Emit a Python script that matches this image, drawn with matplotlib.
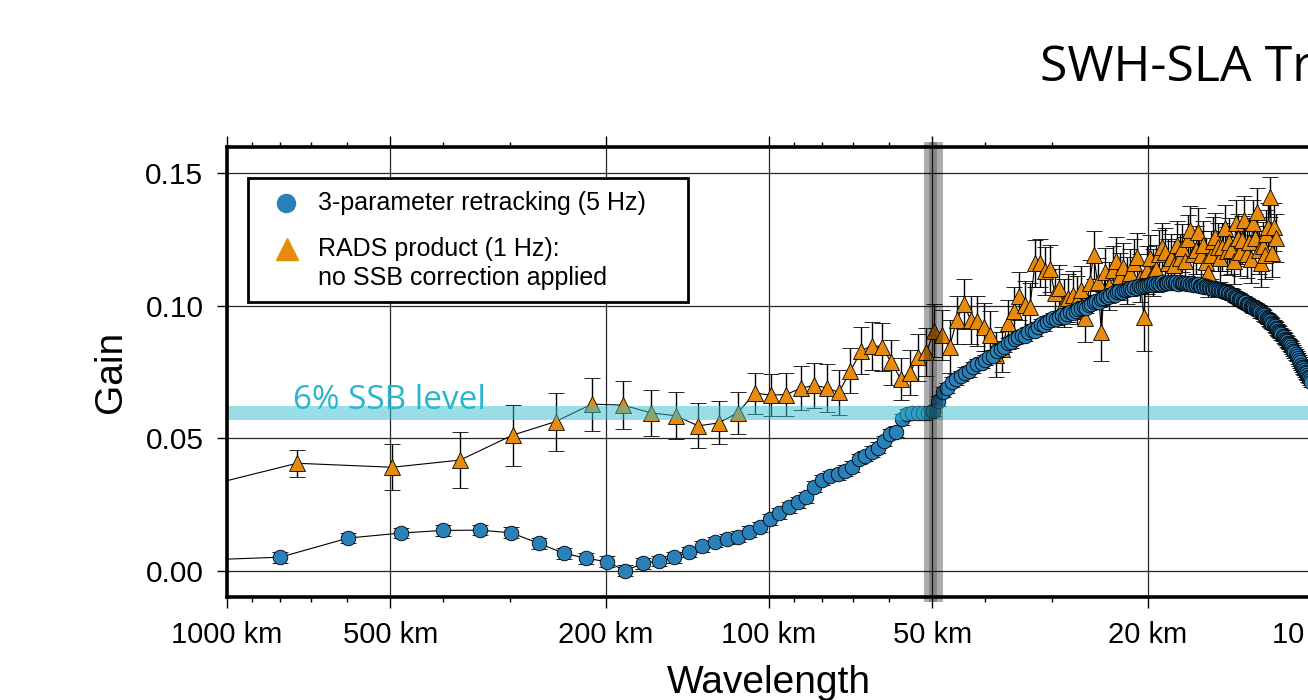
import numpy as np
import matplotlib.pyplot as plt
import matplotlib.transforms as mtransforms
from matplotlib.patches import Rectangle
from matplotlib.ticker import FixedLocator, NullFormatter

plt.rcParams['font.family'] = ['Liberation Sans', 'DejaVu Sans']

# record lengths (km): bin k sits at wavelength = length / k
retrack_len_km = 2392.0
rads_len_km = 1486.0

# 3-parameter retracking, 5 Hz (bins k = 2 ... 239)
retrack_gain = [
    0.0039, 0.0052, 0.0124, 0.0143, 0.0153, 0.0154, 0.0144, 0.0104, 0.0067, 0.0048,
    0.0035, 0.0001, 0.0029, 0.0038, 0.0051, 0.0072, 0.0093, 0.0109, 0.0121, 0.0129,
    0.0148, 0.0166, 0.0195, 0.0217, 0.0240, 0.0259, 0.0278, 0.0318, 0.0343, 0.0358,
    0.0364, 0.0378, 0.0393, 0.0422, 0.0434, 0.0450, 0.0465, 0.0490, 0.0516, 0.0525,
    0.0572, 0.0592, 0.0594, 0.0594, 0.0595, 0.0596, 0.0603, 0.0640,
    0.0675, 0.0690, 0.0712, 0.0722, 0.0735, 0.0747, 0.0752, 0.0768, 0.0779, 0.0785,
    0.0795, 0.0808, 0.0812, 0.0828, 0.0836, 0.0845, 0.0858, 0.0862, 0.0874, 0.0881,
    0.0888, 0.0886, 0.0899, 0.0910, 0.0905, 0.0920, 0.0931, 0.0926, 0.0940, 0.0946,
    0.0952, 0.0948, 0.0957, 0.0964, 0.0958, 0.0968, 0.0975, 0.0972, 0.0981, 0.0986,
    0.0990, 0.0996, 0.0993, 0.1003, 0.1008, 0.1012, 0.1018, 0.1015, 0.1024, 0.1030,
    0.1035, 0.1031, 0.1040, 0.1046, 0.1042, 0.1050, 0.1054, 0.1051, 0.1058, 0.1060,
    0.1063, 0.1066, 0.1061, 0.1070, 0.1068, 0.1073, 0.1071, 0.1076, 0.1074, 0.1077,
    0.1078, 0.1082, 0.1077, 0.1084, 0.1080, 0.1086, 0.1083, 0.1088, 0.1082, 0.1087,
    0.1085, 0.1090, 0.1084, 0.1089, 0.1086, 0.1091, 0.1083, 0.1088, 0.1085, 0.1087,
    0.1085, 0.1082, 0.1087, 0.1080, 0.1084, 0.1079, 0.1081, 0.1077, 0.1080, 0.1076,
    0.1075, 0.1078, 0.1072, 0.1074, 0.1069, 0.1072, 0.1066, 0.1068, 0.1064, 0.1066,
    0.1062, 0.1064, 0.1058, 0.1060, 0.1055, 0.1057, 0.1051, 0.1053, 0.1048, 0.1047,
    0.1045, 0.1040, 0.1042, 0.1035, 0.1033, 0.1030, 0.1026, 0.1024, 0.1020, 0.1018,
    0.1015, 0.1013, 0.1008, 0.1006, 0.1003, 0.1000, 0.0998, 0.0994, 0.0992, 0.0990,
    0.0988, 0.0983, 0.0981, 0.0975, 0.0972, 0.0968, 0.0963, 0.0958, 0.0953, 0.0950,
    0.0945, 0.0941, 0.0936, 0.0932, 0.0927, 0.0922, 0.0917, 0.0911, 0.0906, 0.0902,
    0.0897, 0.0892, 0.0887, 0.0881, 0.0876, 0.0871, 0.0866, 0.0860, 0.0855, 0.0850,
    0.0845, 0.0838, 0.0831, 0.0824, 0.0817, 0.0810, 0.0802, 0.0794, 0.0786, 0.0778,
    0.0770, 0.0764, 0.0758, 0.0751, 0.0745, 0.0739, 0.0733, 0.0727, 0.0720, 0.0714,
]
retrack_err = 0.002

# RADS product, 1 Hz, no SSB correction (bins k = 1 ... 128)
rads_gain = [
    0.0253, 0.0406, 0.0391, 0.0418, 0.0512, 0.0563, 0.0629, 0.0625, 0.0596, 0.0585,
    0.0547, 0.0558, 0.0596, 0.0670, 0.0663, 0.0665, 0.0689, 0.0700, 0.0690, 0.0673,
    0.0754, 0.0830, 0.0849, 0.0845, 0.0786, 0.0723, 0.0747, 0.0805, 0.0826, 0.0905,
    0.0889, 0.0845, 0.0945, 0.1006, 0.0946, 0.0943, 0.0919, 0.0891, 0.0815, 0.0835,
    0.0933, 0.0980, 0.1037, 0.1002, 0.0994, 0.1159, 0.1160, 0.1132, 0.1140, 0.1049,
    0.1065, 0.1010, 0.1028, 0.1040, 0.1021, 0.1060, 0.0952, 0.1084, 0.1190, 0.1090,
    0.0902, 0.1128, 0.1075, 0.1134, 0.1170, 0.1110, 0.1145, 0.1095, 0.1125, 0.1160,
    0.1185, 0.1105, 0.0958, 0.1134, 0.1178, 0.1125, 0.1140, 0.1195, 0.1220, 0.1203,
    0.1160, 0.1180, 0.1153, 0.1230, 0.1180, 0.1216, 0.1170, 0.1253, 0.1285, 0.1195,
    0.1210, 0.1278, 0.1190, 0.1228, 0.1165, 0.1122, 0.1190, 0.1245, 0.1260, 0.1222,
    0.1180, 0.1222, 0.1291, 0.1205, 0.1240, 0.1210, 0.1170, 0.1310, 0.1255, 0.1203,
    0.1247, 0.1323, 0.1195, 0.1240, 0.1175, 0.1310, 0.1255, 0.1354, 0.1210, 0.1159,
    0.1225, 0.1190, 0.1270, 0.1297, 0.1410, 0.1197, 0.1297, 0.1255,
]
rads_err = [
    0.0060, 0.0050, 0.0086, 0.0105, 0.0115, 0.0109, 0.0100, 0.0091, 0.0087, 0.0088,
    0.0085, 0.0081, 0.0079, 0.0077, 0.0078, 0.0080, 0.0082, 0.0085, 0.0090, 0.0085,
    0.0085, 0.0088, 0.0090, 0.0090, 0.0085, 0.0080, 0.0085, 0.0090, 0.0090, 0.0100,
    0.0095, 0.0100, 0.0090, 0.0095, 0.0090, 0.0095, 0.0090, 0.0090, 0.0085, 0.0085,
    0.0090, 0.0090, 0.0090, 0.0090, 0.0090, 0.0090, 0.0090, 0.0090, 0.0090, 0.0090,
    0.0090, 0.0090, 0.0090, 0.0090, 0.0090, 0.0090, 0.0090, 0.0090, 0.0090, 0.0090,
    0.0110, 0.0090, 0.0090, 0.0090, 0.0090, 0.0090, 0.0090, 0.0090, 0.0090, 0.0090,
    0.0090, 0.0090, 0.0130, 0.0090, 0.0090, 0.0090, 0.0090, 0.0090, 0.0090, 0.0090,
    0.0090, 0.0090, 0.0090, 0.0090, 0.0090, 0.0090, 0.0090, 0.0090, 0.0090, 0.0090,
    0.0090, 0.0090, 0.0090, 0.0090, 0.0090, 0.0090, 0.0090, 0.0090, 0.0090, 0.0090,
    0.0090, 0.0090, 0.0090, 0.0090, 0.0090, 0.0090, 0.0090, 0.0090, 0.0090, 0.0090,
    0.0090, 0.0090, 0.0090, 0.0090, 0.0090, 0.0090, 0.0090, 0.0090, 0.0090, 0.0090,
    0.0090, 0.0090, 0.0090, 0.0090, 0.0075, 0.0090, 0.0090, 0.0090,
]

ssb_band = (0.057, 0.062)
cutoff_wide = (47.7, 51.7)
cutoff_core = (48.9, 50.6)

xticks_km = [1000, 500, 200, 100, 50, 20, 10]
xtick_labels = ["1000 km", "500 km", "200 km", "100 km", "50 km", "20 km", "10 km"]
yticks = [0.00, 0.05, 0.10, 0.15]

blue = "#2a80b9"
orange = "#e88a0c"

retrack_wl = retrack_len_km / np.arange(2, 2 + len(retrack_gain))
rads_wl = rads_len_km / np.arange(1, 1 + len(rads_gain))

fig = plt.figure(figsize=(13.08, 7), dpi=100)
ax = fig.add_axes([227 / 1308, 103 / 700, 1084 / 1308, 450 / 700])

ax.set_xscale("log")
ax.set_xlim(1000, 10)
ax.set_ylim(-0.0098, 0.1598)

ax.xaxis.set_major_locator(FixedLocator(xticks_km))
ax.xaxis.set_minor_locator(FixedLocator([m * 10 ** e for e in (1, 2) for m in (3, 4, 6, 7, 8, 9)]))
ax.xaxis.set_minor_formatter(NullFormatter())
ax.set_xticklabels(xtick_labels)
ax.set_yticks(yticks)
ax.set_yticklabels(["%.2f" % v for v in yticks])

ax.tick_params(which="major", direction="out", length=8, width=1.0, top=True,
               labelsize=21, pad=9)
ax.tick_params(which="minor", direction="out", length=3.5, width=1.0, top=True)
ax.tick_params(axis="y", length=7, pad=10, labelsize=21.5)

ax.grid(True, which="major", color="0.15", lw=0.9)
ax.set_axisbelow(True)
for s in ax.spines.values():
    s.set_linewidth(2.6)
    s.set_zorder(10)

# RADS 1 Hz, drawn under the retracked curve
ax.errorbar(rads_wl, rads_gain, yerr=rads_err, fmt="-", color="k", lw=0.8,
            ecolor="k", elinewidth=1.0, capsize=6, capthick=1.0,
            marker="^", ms=12, mfc=orange, mec="k", mew=0.6, zorder=3)

# retracked 5 Hz
ax.errorbar(retrack_wl, retrack_gain, yerr=retrack_err, fmt="-", color="k", lw=0.8,
            ecolor="k", elinewidth=1.0, capsize=6, capthick=1.0,
            marker="o", ms=10.5, mfc=blue, mec="k", mew=0.6, zorder=4)

# 6% SSB level
ax.axhspan(*ssb_band, color="#35bfd1", alpha=0.5, lw=0, zorder=5)
trans = mtransforms.blended_transform_factory(ax.transAxes, ax.transData)
ax.text(0.061, 0.0612, "6% SSB level", transform=trans, color="#2ab5cd",
        fontsize=24, family=["Open Sans", "DejaVu Sans"], va="baseline", zorder=6)

# 50 km marker
for (w0, w1), a in ((cutoff_wide, 0.32), (cutoff_core, 0.22)):
    ax.add_patch(Rectangle((w0, -0.0118), w1 - w0, 0.1736, facecolor="k", alpha=a,
                           lw=0, clip_on=False, zorder=7))

# legend box
ax.add_patch(Rectangle((0.0194, 0.6556), 0.4059, 0.2754, transform=ax.transAxes,
                       facecolor="white", edgecolor="k", lw=2, zorder=8))
ax.plot([0.0544], [0.8756], "o", ms=13, color=blue, transform=ax.transAxes, zorder=9)
ax.plot([0.0554], [0.7733], "^", ms=16, color=orange, transform=ax.transAxes, zorder=9)
ax.text(0.0839, 0.8756, "3-parameter retracking (5 Hz)", transform=ax.transAxes,
        fontsize=18, va="center", zorder=9)
ax.text(0.0839, 0.7733, "RADS product (1 Hz):", transform=ax.transAxes,
        fontsize=18, va="center", zorder=9)
ax.text(0.0839, 0.7089, "no SSB correction applied", transform=ax.transAxes,
        fontsize=18, va="center", zorder=9)

ax.set_xlabel("Wavelength", fontsize=28, labelpad=12)
ax.set_ylabel("Gain", fontsize=28, labelpad=12)

fig.text(1040 / 1308, 1 - 81 / 700, "SWH-SLA Transfer Function", fontsize=36,
         family=["Open Sans", "DejaVu Sans"], ha="left", va="baseline")

fig.savefig("out.png", dpi=100)
